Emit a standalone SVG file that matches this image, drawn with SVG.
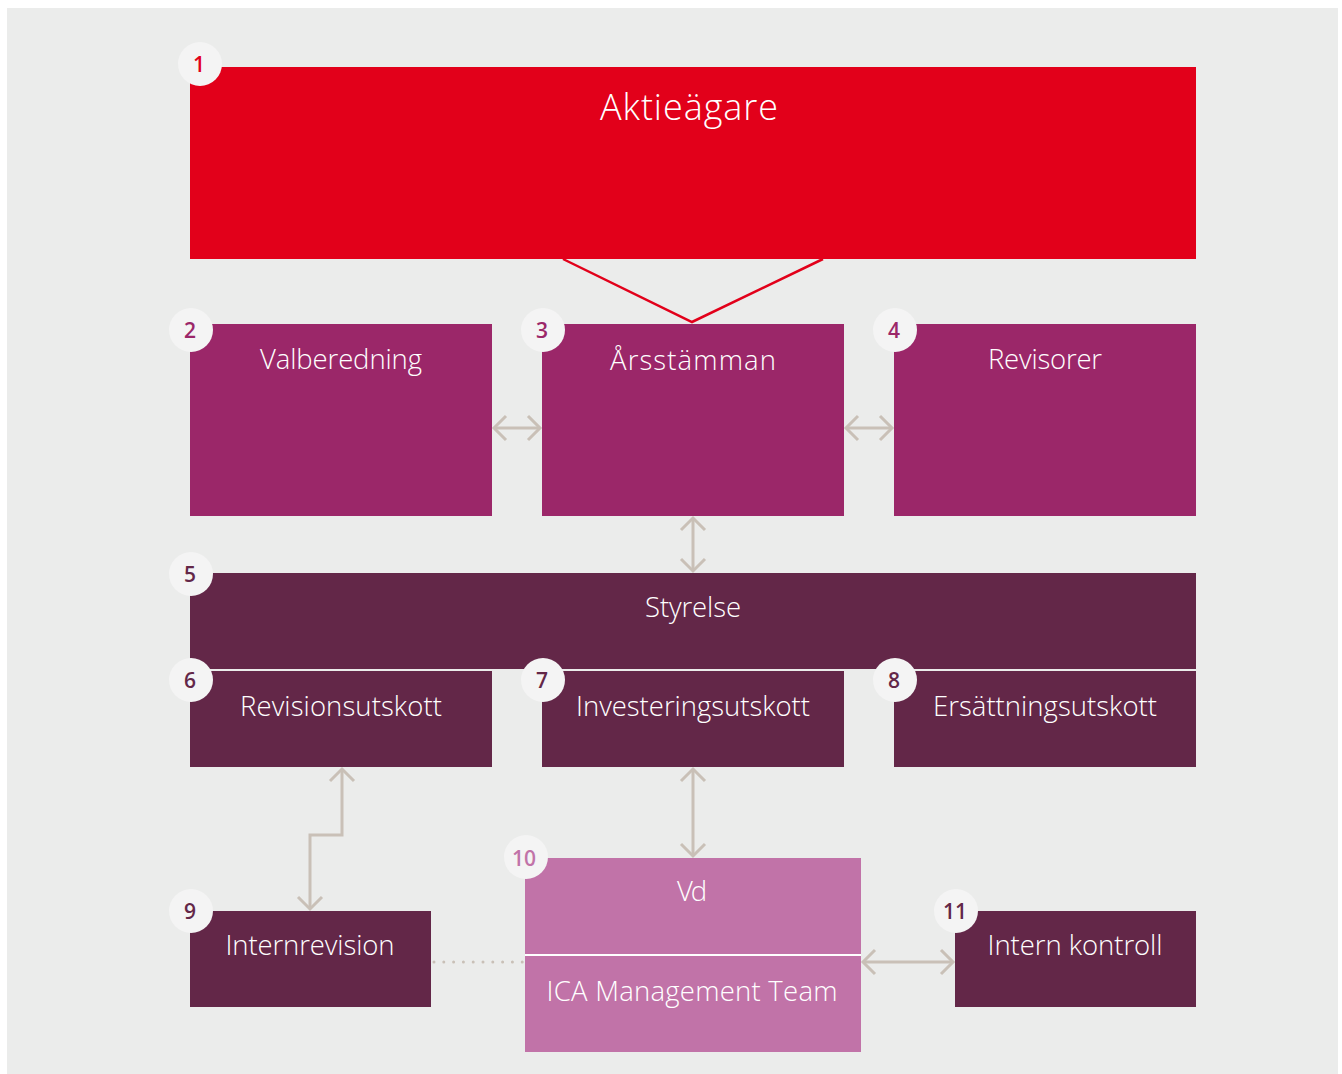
<svg xmlns="http://www.w3.org/2000/svg" width="1342" height="1074" viewBox="0 0 1342 1074">
<defs>
<style>
.t{font-family:"Open Sans","Liberation Sans",sans-serif;font-weight:300;fill:#ffffff;text-anchor:middle;font-size:27.5px}
.big{font-size:36px}
.n{font-family:"Open Sans","Liberation Sans",sans-serif;font-weight:600;text-anchor:middle;font-size:21px}
.badge{fill:#f4f4f4}
.ar{fill:none;stroke:#c9c0b7;stroke-width:3}
</style>
<marker id="ah" viewBox="-14 -14 28 28" markerWidth="28" markerHeight="28" refX="0" refY="0" orient="auto-start-reverse" markerUnits="userSpaceOnUse">
<path d="M-12,-12 L0,0 L-12,12" fill="none" stroke="#c9c0b7" stroke-width="3"/>
</marker>
</defs>
<rect x="0" y="0" width="1342" height="1074" fill="#ffffff"/>
<rect x="7" y="8" width="1331" height="1066" fill="#ebeceb"/>

<g id="connectors">
<polyline points="563,259 692,322 823,259" fill="none" stroke="#e2001a" stroke-width="2.5"/>
<line class="ar" x1="494" y1="428" x2="540" y2="428" marker-start="url(#ah)" marker-end="url(#ah)"/>
<line class="ar" x1="846" y1="428" x2="892" y2="428" marker-start="url(#ah)" marker-end="url(#ah)"/>
<line class="ar" x1="693" y1="518" x2="693" y2="571" marker-start="url(#ah)" marker-end="url(#ah)"/>
<polyline class="ar" points="342,769 342,835 310,835 310,909" marker-start="url(#ah)" marker-end="url(#ah)"/>
<line class="ar" x1="693" y1="769" x2="693" y2="856" marker-start="url(#ah)" marker-end="url(#ah)"/>
<line class="ar" x1="863" y1="962" x2="953" y2="962" marker-start="url(#ah)" marker-end="url(#ah)"/>
<line x1="434" y1="962" x2="524" y2="962" stroke="#c9c0b7" stroke-width="3" stroke-linecap="round" stroke-dasharray="0 9.8"/>
</g>

<g id="n1">
<rect x="190" y="67" width="1006" height="192" fill="#e2001a"/>
<circle class="badge" cx="200" cy="64" r="22"/>
<text class="n" x="199" y="72" fill="#e2001a">1</text>
<text class="t big" x="689" y="120" textLength="178" lengthAdjust="spacing">Aktieägare</text>
</g>

<g id="n2">
<rect x="190" y="324" width="302" height="192" fill="#9b2769"/>
<circle class="badge" cx="191" cy="330" r="22"/>
<text class="n" x="190" y="338" fill="#9b2769">2</text>
<text class="t" x="341" y="369" textLength="162" lengthAdjust="spacing">Valberedning</text>
</g>

<g id="n3">
<rect x="542" y="324" width="302" height="192" fill="#9b2769"/>
<circle class="badge" cx="543" cy="330" r="22"/>
<text class="n" x="542" y="338" fill="#9b2769">3</text>
<text class="t" x="693" y="370" textLength="166" lengthAdjust="spacing">Årsstämman</text>
</g>

<g id="n4">
<rect x="894" y="324" width="302" height="192" fill="#9b2769"/>
<circle class="badge" cx="895" cy="330" r="22"/>
<text class="n" x="894" y="338" fill="#9b2769">4</text>
<text class="t" x="1045" y="369" textLength="114" lengthAdjust="spacing">Revisorer</text>
</g>

<g id="n5">
<rect x="190" y="573" width="1006" height="96" fill="#632748"/>
<circle class="badge" cx="191" cy="574" r="22"/>
<text class="n" x="190" y="582" fill="#632748">5</text>
<text class="t" x="693" y="617" textLength="96" lengthAdjust="spacing">Styrelse</text>
</g>

<g id="n6">
<rect x="190" y="671" width="302" height="96" fill="#632748"/>
<circle class="badge" cx="191" cy="680" r="22"/>
<text class="n" x="190" y="688" fill="#632748">6</text>
<text class="t" x="341" y="716" textLength="202" lengthAdjust="spacing">Revisionsutskott</text>
</g>

<g id="n7">
<rect x="542" y="671" width="302" height="96" fill="#632748"/>
<circle class="badge" cx="543" cy="680" r="22"/>
<text class="n" x="542" y="688" fill="#632748">7</text>
<text class="t" x="693" y="716" textLength="234" lengthAdjust="spacing">Investeringsutskott</text>
</g>

<g id="n8">
<rect x="894" y="671" width="302" height="96" fill="#632748"/>
<circle class="badge" cx="895" cy="680" r="22"/>
<text class="n" x="894" y="688" fill="#632748">8</text>
<text class="t" x="1045" y="716" textLength="224" lengthAdjust="spacing">Ersättningsutskott</text>
</g>

<g id="n9">
<rect x="190" y="911" width="241" height="96" fill="#632748"/>
<circle class="badge" cx="191" cy="911" r="22"/>
<text class="n" x="190" y="919" fill="#632748">9</text>
<text class="t" x="310" y="955" textLength="169" lengthAdjust="spacing">Internrevision</text>
</g>

<g id="n10">
<rect x="525" y="858" width="336" height="194" fill="#c173a8"/>
<rect x="525" y="954" width="336" height="2" fill="#ffffff"/>
<circle class="badge" cx="526" cy="857" r="22"/>
<text class="n" x="524" y="866" fill="#c173a8">10</text>
<text class="t" x="692" y="901" textLength="30" lengthAdjust="spacing">Vd</text>
<text class="t" x="692" y="1001" textLength="291" lengthAdjust="spacing">ICA Management Team</text>
</g>

<g id="n11">
<rect x="955" y="911" width="241" height="96" fill="#632748"/>
<circle class="badge" cx="956" cy="911" r="22"/>
<text class="n" x="955" y="919" fill="#632748">11</text>
<text class="t" x="1075" y="955" textLength="175" lengthAdjust="spacing">Intern kontroll</text>
</g>
</svg>
